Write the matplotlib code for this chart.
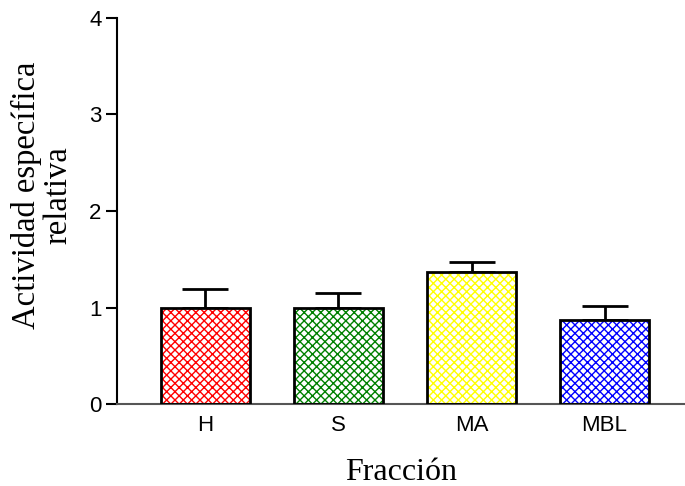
import matplotlib.pyplot as plt
import numpy as np

# Fractions and relative specific activity (mean + upper SEM)
fracciones = ["H", "S", "MA", "MBL"]
actividad = [1.00, 1.00, 1.37, 0.87]
error = [0.19, 0.15, 0.10, 0.15]
colores = ["#ff0000", "#008000", "#ffff00", "#0000ff"]

plt.rcParams["hatch.linewidth"] = 1.0

fig = plt.figure(figsize=(6.85, 4.86), dpi=100)
ax = fig.add_axes([117 / 685, 82 / 486, 568 / 685, 386 / 486])

x = np.arange(len(fracciones))
for xi, val, err, col in zip(x, actividad, error, colores):
    ax.bar(xi, val, width=0.67, color="white", edgecolor=col, hatch="xxxx",
           linewidth=0, zorder=2)
    ax.bar(xi, val, width=0.67, fill=False, edgecolor="black", linewidth=2,
           zorder=3)
    ax.errorbar(xi, val, yerr=[[0], [err]], fmt="none", ecolor="black",
                elinewidth=2, capsize=16.5, capthick=2, zorder=1)

ax.set_xlim(-0.665, 3.605)
ax.set_ylim(0, 4)
ax.set_yticks([0, 1, 2, 3, 4])
ax.set_xticks(x)
ax.set_xticklabels(fracciones)

ax.spines["top"].set_visible(False)
ax.spines["right"].set_visible(False)
ax.spines["left"].set_linewidth(1.5)
ax.spines["bottom"].set_linewidth(1.5)
ax.spines["bottom"].set_color("#555555")

ax.tick_params(axis="y", length=8, width=1.5, labelsize=16, pad=3)
ax.tick_params(axis="x", length=0, labelsize=16, pad=8)
for lbl in ax.get_xticklabels() + ax.get_yticklabels():
    lbl.set_family("Liberation Sans")

ax.set_ylabel("Actividad específica\nrelativa", family="Liberation Serif",
              fontsize=23.5, linespacing=1.05)
ax.yaxis.set_label_coords(-0.076, 0.541)
ax.set_xlabel("Fracción", family="Liberation Serif", fontsize=23, labelpad=16)

fig.savefig("out.png", dpi=100)
